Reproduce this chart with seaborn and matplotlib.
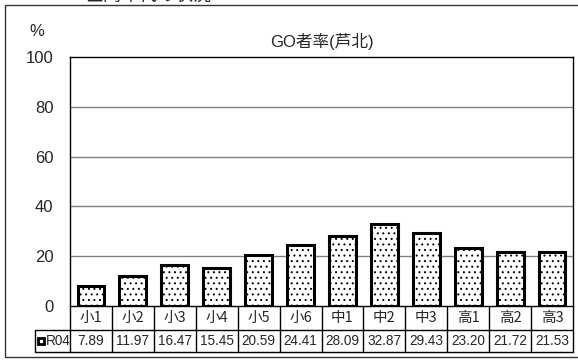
import matplotlib
matplotlib.use("Agg")
import matplotlib.pyplot as plt
import matplotlib.transforms as mtransforms
from matplotlib.patches import Rectangle
import seaborn as sns
import pandas as pd

grades = ["小1", "小2", "小3", "小4", "小5", "小6", "中1", "中2", "中3", "高1", "高2", "高3"]
rates_r04 = [7.89, 11.97, 16.47, 15.45, 20.59, 24.41, 28.09, 32.87, 29.43, 23.20, 21.72, 21.53]
value_labels = ["7.89", "11.97", "16.47", "15.45", "20.59", "24.41", "28.09", "32.87",
                "29.43", "23.20", "21.72", "21.53"]
series_name = "R04"
yticks = [0, 20, 40, 60, 80, 100]

sns.set_theme(style="white")
plt.rcParams["font.family"] = ["Liberation Sans", "Noto Sans CJK JP", "DejaVu Sans"]
plt.rcParams["hatch.linewidth"] = 0.7

W, H = 578, 362
fig = plt.figure(figsize=(W / 100, H / 100), dpi=100)
fig.patch.set_facecolor("white")

# outer frame of the sheet
fig.add_artist(Rectangle((5 / W, 1 - 357 / H), 575 / W, 352 / H, transform=fig.transFigure,
                         fill=False, edgecolor="#333333", linewidth=1.0))
# section heading, mostly above the top edge
fig.text(85 / W, 1 - 5 / H, "■同年代の状況", fontsize=13, va="bottom", ha="left",
         family=["Noto Sans CJK JP", "DejaVu Sans"])

left, right, top, bottom = 70, 573, 57, 306
ax = fig.add_axes([left / W, 1 - bottom / H, (right - left) / W, (bottom - top) / H])

df = pd.DataFrame({"grade": grades, "rate": rates_r04})
sns.barplot(data=df, x="grade", y="rate", ax=ax, width=0.64, color="white",
            edgecolor="black", linewidth=2.2, saturation=1)
for p in ax.patches:
    p.set_hatch("...")
    p.set_facecolor("white")

ax.set_ylim(0, 100)
ax.set_xlim(-0.5, len(grades) - 0.5)
ax.set_yticks(yticks)
ax.set_yticklabels([str(t) for t in yticks], fontsize=12)
ax.tick_params(axis="y", length=0, pad=12)
ax.set_xticks([])
ax.set_xlabel("")
ax.set_ylabel("")
for y in yticks[1:-1]:
    ax.axhline(y, color="#808080", linewidth=1.0, zorder=0)
for s in ax.spines.values():
    s.set_color("black")
    s.set_linewidth(1.0)

ax.text(0.5, 1 + 15 / 249, "GO者率(芦北)", transform=ax.transAxes, ha="center",
        va="center", fontsize=12, family=["Liberation Sans", "Noto Sans CJK JP"])
fig.text(37 / W, 1 - 32 / H, "%", fontsize=12, ha="center", va="center")

# data table under the plot
trans = mtransforms.blended_transform_factory(ax.transData, ax.transAxes)
ph = bottom - top
r1 = -24 / ph
r2 = -46 / ph
n = len(grades)
leg_left = -0.5 - 35 / ((right - left) / n)
lkw = dict(color="black", linewidth=1.0, transform=trans, clip_on=False)
ax.plot([-0.5, n - 0.5], [r1, r1], **lkw)
ax.plot([leg_left, n - 0.5], [r2, r2], **lkw)
ax.plot([leg_left, -0.5], [r1, r1], **lkw)
ax.plot([leg_left, leg_left], [r1, r2], **lkw)
for i in range(n + 1):
    ax.plot([i - 0.5, i - 0.5], [0, r2], **lkw)
for i, (g, v) in enumerate(zip(grades, value_labels)):
    ax.text(i, r1 / 2, g, transform=trans, ha="center", va="center", fontsize=10.5,
            family=["Noto Sans CJK JP", "DejaVu Sans"])
    ax.text(i, (r1 + r2) / 2, v, transform=trans, ha="center", va="center", fontsize=9.8)

# legend key inside the table
key_x = leg_left + 0.08
ax.add_patch(Rectangle((key_x, (r1 + r2) / 2 - 3 / ph), 0.14, 6 / ph, transform=trans,
                       facecolor="white", edgecolor="black", linewidth=2.0, clip_on=False))
ax.text(key_x + 0.17, (r1 + r2) / 2, series_name, transform=trans, ha="left", va="center",
        fontsize=9.8)

fig.savefig("out.png", dpi=100)
